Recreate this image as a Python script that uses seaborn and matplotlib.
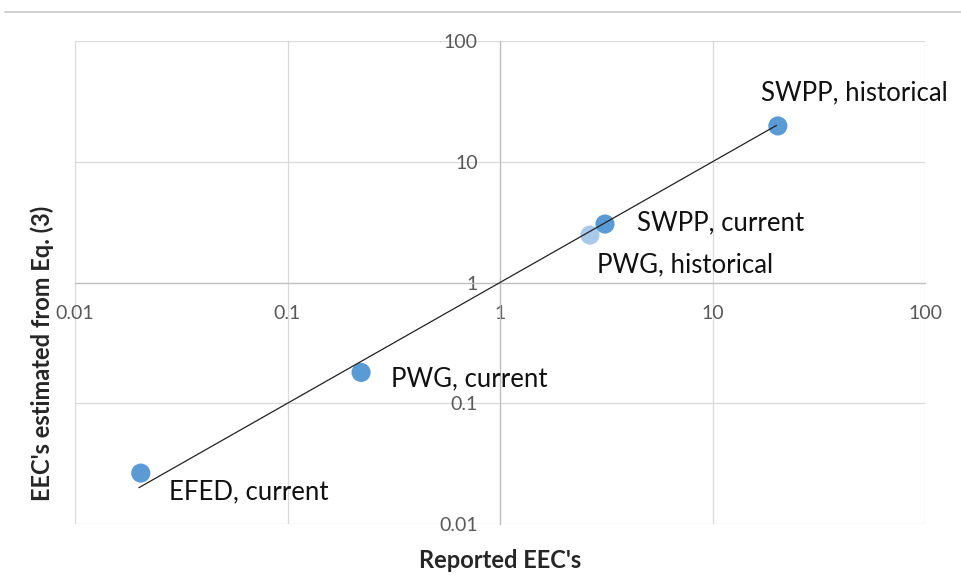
import numpy as np
import pandas as pd
import seaborn as sns
import matplotlib.pyplot as plt
from matplotlib.lines import Line2D
from matplotlib.ticker import FixedLocator, FuncFormatter, NullLocator

# Data
labels = ["EFED, current", "PWG, current", "PWG, historical", "SWPP, current", "SWPP, historical"]
reported = [0.0204, 0.222, 2.65, 3.12, 20.3]
estimated = [0.0264, 0.18, 2.47, 3.05, 19.8]
shade = ["dark", "dark", "light", "dark", "dark"]
fit_x = [0.02, 20]
fit_y = [0.02, 20]
decades = [0.01, 0.1, 1, 10, 100]

df = pd.DataFrame({"reported": reported, "estimated": estimated, "label": labels, "shade": shade})

sns.set_theme(style="white")
plt.rcParams['font.family'] = ['Lato', 'DejaVu Sans']

fig = plt.figure(figsize=(9.61, 5.79), dpi=100)
ax = fig.add_axes([75 / 961, 1 - 524 / 579, 850 / 961, 483 / 579])
ax.set_xscale('log')
ax.set_yscale('log')
ax.set_xlim(0.01, 100)
ax.set_ylim(0.01, 100)

# light point first so the darker one sits above it
order = [2, 0, 1, 3, 4]
sns.scatterplot(data=df.iloc[order], x="reported", y="estimated", hue="shade",
                palette={"dark": "#5b9bd5", "light": "#a9c9ea"}, s=190,
                edgecolor="none", legend=False, ax=ax, zorder=3)
ax.plot(fit_x, fit_y, color="#222222", lw=0.9, zorder=4)

# label offsets in pixels from each point
offsets = {
    "EFED, current": (28, -19),
    "PWG, current": (30, -6),
    "PWG, historical": (7, -30),
    "SWPP, current": (32, 1),
    "SWPP, historical": (-17, 33),
}
for x, y, lab in zip(reported, estimated, labels):
    dx, dy = offsets[lab]
    ax.annotate(lab, (x, y), xytext=(dx, dy), textcoords='offset pixels',
                ha='left', va='center', fontsize=18.5, color='#111111')

for a in (ax.xaxis, ax.yaxis):
    a.set_major_locator(FixedLocator(decades))
    a.set_minor_locator(NullLocator())
    a.set_major_formatter(FuncFormatter(lambda v, p: f"{v:g}"))

ax.grid(True, color="#d9d9d9", lw=0.9)
ax.spines['top'].set_visible(False)
ax.spines['right'].set_visible(False)
ax.spines['left'].set_position(('data', 1))
ax.spines['bottom'].set_position(('data', 1))
for sp in ('left', 'bottom'):
    ax.spines[sp].set_color('#bfbfbf')
    ax.spines[sp].set_linewidth(0.9)
ax.tick_params(length=0, labelsize=14, labelcolor='#595959')
ax.tick_params(axis='x', pad=16)
ax.tick_params(axis='y', pad=16)
ax.set_xlabel("")
ax.set_ylabel("")

fig.text(500 / 961, 1 - 561 / 579, "Reported EEC's", ha='center', va='center',
         fontsize=17, fontweight='bold', color='#262626')
fig.text(42 / 961, 1 - 353 / 579, "EEC's estimated from Eq. (3)", ha='center', va='center',
         rotation=90, fontsize=17, fontweight='bold', color='#262626')

fig.add_artist(Line2D([5 / 961, 1], [1 - 12 / 579] * 2, color='#c8c8c8', lw=1.2))

fig.savefig("out.png", dpi=100)
